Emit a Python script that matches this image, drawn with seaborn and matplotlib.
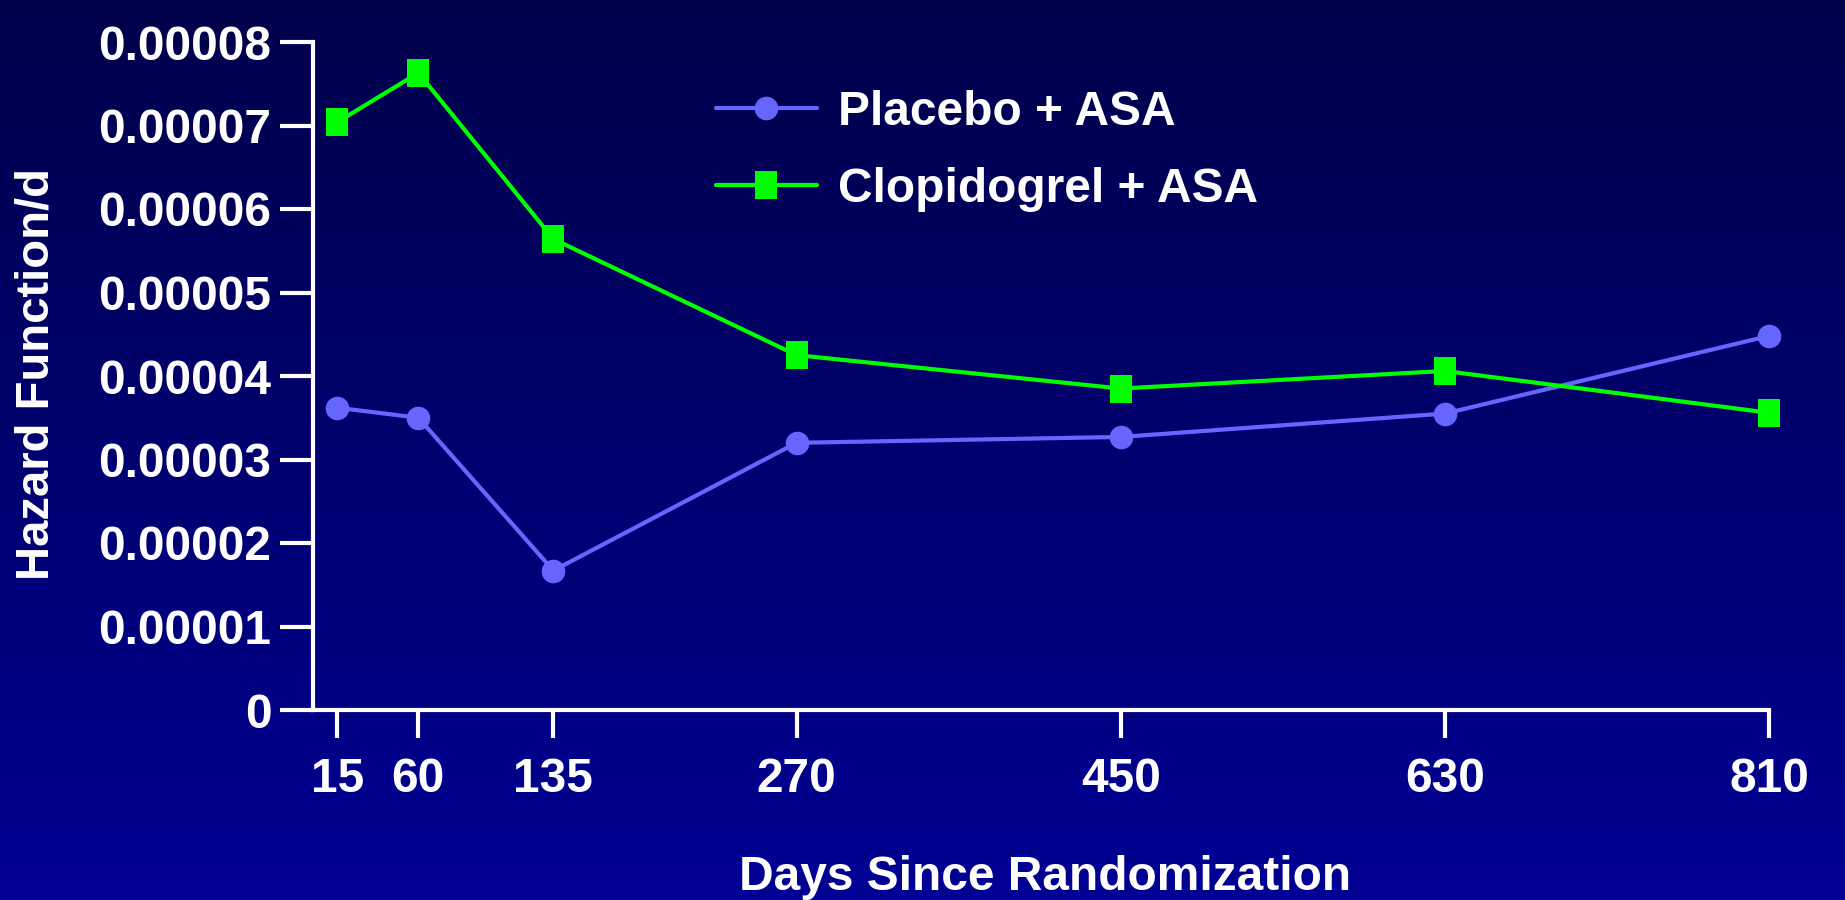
import numpy as np
import pandas as pd
import matplotlib
matplotlib.use("Agg")
import matplotlib.pyplot as plt
import seaborn as sns
from matplotlib.colors import LinearSegmentedColormap

days = [15, 60, 135, 270, 450, 630, 810]
placebo = [3.62e-5, 3.50e-5, 1.67e-5, 3.20e-5, 3.27e-5, 3.55e-5, 4.48e-5]
clopidogrel = [7.04e-5, 7.63e-5, 5.64e-5, 4.25e-5, 3.85e-5, 4.06e-5, 3.56e-5]
y_ticks = [0, 0.00001, 0.00002, 0.00003, 0.00004, 0.00005, 0.00006, 0.00007, 0.00008]
y_labels = ["0", "0.00001", "0.00002", "0.00003", "0.00004", "0.00005", "0.00006", "0.00007", "0.00008"]
series_names = ["Placebo + ASA", "Clopidogrel + ASA"]

sns.set_theme(style="white")
plt.rcParams['font.family'] = ['Liberation Sans', 'DejaVu Sans']
plt.rcParams['font.weight'] = 'bold'

W, H = 1845, 900
fig = plt.figure(figsize=(W / 100, H / 100), dpi=100)

# background gradient
bg = fig.add_axes([0, 0, 1, 1], zorder=-10)
cmap = LinearSegmentedColormap.from_list("bg", ["#00004A", "#000094"])
grad = np.linspace(0, 1, 256).reshape(-1, 1)
bg.imshow(grad, aspect="auto", cmap=cmap, extent=[0, 1, 0, 1], origin="upper")
bg.set_axis_off()

left, right, top, bottom = 313, 1769, 42, 710
ax = fig.add_axes([left / W, 1 - bottom / H, (right - left) / W, (bottom - top) / H])
ax.set_facecolor("none")
ax.patch.set_alpha(0)

df_p = pd.DataFrame({"days": days, "hazard": placebo})
df_c = pd.DataFrame({"days": days, "hazard": clopidogrel})

rect_marker = [(-0.78, -1), (0.78, -1), (0.78, 1), (-0.78, 1), (-0.78, -1)]

sns.lineplot(data=df_p, x="days", y="hazard", ax=ax, color="#6666FF", linewidth=3.0,
             marker="o", markersize=17, markeredgewidth=0, markerfacecolor="#6666FF",
             label=series_names[0], clip_on=False)
sns.lineplot(data=df_c, x="days", y="hazard", ax=ax, color="#00FF00", linewidth=3.0,
             marker=rect_marker, markersize=19.5, markeredgewidth=0, markerfacecolor="#00FF00",
             label=series_names[1], clip_on=False)

ax.set_xlim(1.5, 810)
ax.set_ylim(0, 0.00008)
ax.set_xticks(days)
ax.set_xticklabels([str(d) for d in days])
ax.set_yticks(y_ticks)
ax.set_yticklabels(y_labels)

for s in ["top", "right"]:
    ax.spines[s].set_visible(False)
for s in ["left", "bottom"]:
    ax.spines[s].set_color("white")
    ax.spines[s].set_linewidth(3.0)

FS = 34.5
ax.tick_params(axis="y", colors="white", labelsize=FS, length=24, width=3.0, direction="out", pad=6)
ax.tick_params(axis="x", colors="white", labelsize=FS, length=20, width=3.0, direction="out", pad=14)
ax.tick_params(left=True, bottom=True)
for lbl in ax.get_xticklabels() + ax.get_yticklabels():
    lbl.set_fontweight("bold")
    lbl.set_color("white")

ax.set_xlabel("Days Since Randomization", fontsize=FS, fontweight="bold", color="white", labelpad=0)
ax.xaxis.set_label_coords((1045 - left) / (right - left), (bottom - 877) / (bottom - top), transform=ax.transAxes)
ax.set_ylabel("Hazard Function/d", fontsize=34, fontweight="bold", color="white")
ax.yaxis.set_label_coords((37 - left) / (right - left), (bottom - 374) / (bottom - top), transform=ax.transAxes)
ax.xaxis.label.set_va("center")
ax.yaxis.label.set_va("center")

leg = ax.legend(loc="upper left", bbox_to_anchor=((716 - left) / (right - left), (bottom - 90) / (bottom - top)),
                frameon=False, fontsize=FS, handlelength=2.1, handletextpad=0.45, labelspacing=0.67,
                borderaxespad=0, borderpad=0)
for t in leg.get_texts():
    t.set_color("white")
    t.set_fontweight("bold")

fig.savefig("out.png", dpi=100)
